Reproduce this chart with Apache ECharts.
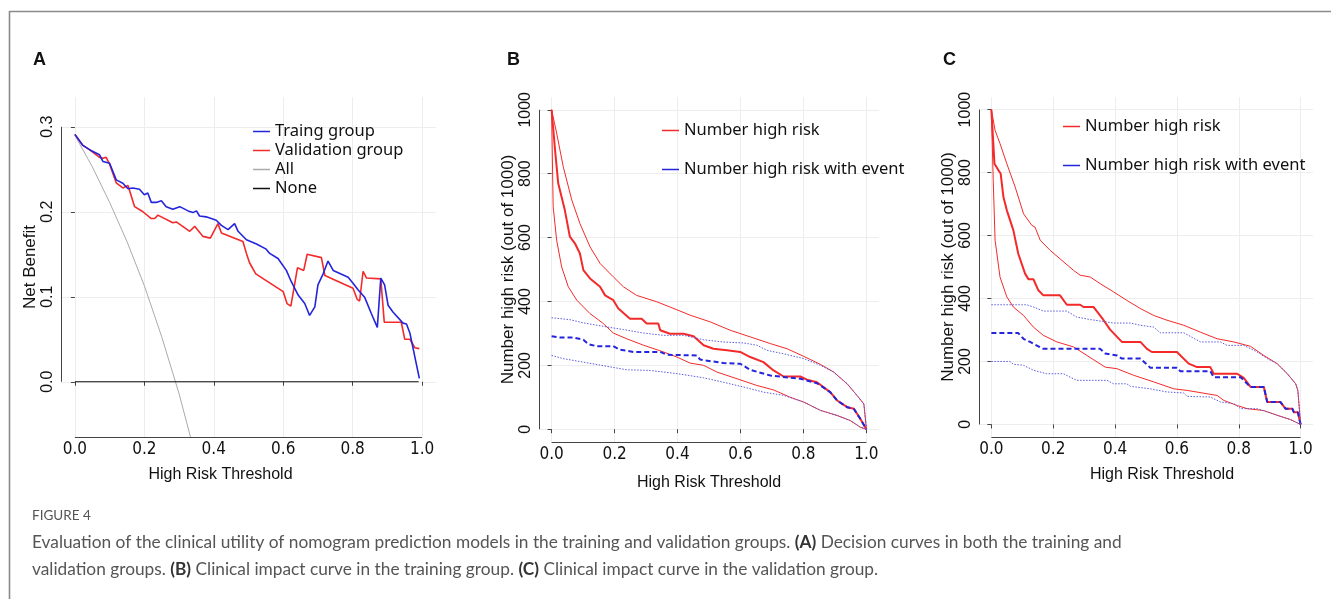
<!DOCTYPE html>
<html>
<head>
<meta charset="utf-8">
<script src="https://cdn.jsdelivr.net/npm/echarts@6/dist/echarts.min.js"></script>
<style>
html,body{margin:0;padding:0;background:#fff;}
#container{width:1331px;height:599px;}
</style>
</head>
<body>
<div id="container"></div>
<script>
// tick values
var xTicks = [0, 0.2, 0.4, 0.6, 0.8, 1.0];
var yTicksA = [0, 0.1, 0.2, 0.3];
var yTicksBC = [0, 200, 400, 600, 800, 1000];

// A: decision curves
var trainA = [[0,0.291],[0.023,0.278],[0.042,0.273],[0.071,0.267],[0.081,0.259],[0.1,0.257],[0.119,0.2375],[0.138,0.2336],[0.153,0.227],[0.167,0.228],[0.186,0.2265],[0.2,0.22],[0.21,0.222],[0.22,0.211],[0.234,0.211],[0.249,0.213],[0.263,0.206],[0.282,0.203],[0.302,0.206],[0.326,0.201],[0.34,0.199],[0.35,0.201],[0.359,0.195],[0.378,0.194],[0.407,0.19],[0.422,0.184],[0.441,0.179],[0.46,0.186],[0.47,0.177],[0.494,0.167],[0.523,0.162],[0.551,0.156],[0.561,0.151],[0.585,0.145],[0.609,0.131],[0.623,0.118],[0.643,0.102],[0.662,0.092],[0.676,0.078],[0.691,0.088],[0.7,0.114],[0.715,0.127],[0.729,0.142],[0.744,0.131],[0.787,0.123],[0.801,0.116],[0.816,0.108],[0.835,0.099],[0.854,0.08],[0.871,0.064],[0.881,0.122],[0.892,0.114],[0.902,0.09],[0.916,0.082],[0.945,0.069],[0.955,0.068],[0.965,0.057],[0.992,0.004]];
var validA = [[0,0.291],[0.023,0.278],[0.042,0.273],[0.071,0.264],[0.081,0.263],[0.09,0.264],[0.1,0.256],[0.119,0.234],[0.138,0.228],[0.153,0.231],[0.172,0.206],[0.196,0.2],[0.22,0.192],[0.23,0.192],[0.239,0.196],[0.282,0.187],[0.292,0.188],[0.331,0.177],[0.345,0.183],[0.369,0.171],[0.39,0.169],[0.412,0.186],[0.422,0.175],[0.484,0.165],[0.494,0.151],[0.503,0.14],[0.521,0.127],[0.6,0.106],[0.611,0.092],[0.622,0.089],[0.641,0.134],[0.659,0.131],[0.669,0.15],[0.71,0.146],[0.72,0.125],[0.801,0.11],[0.813,0.097],[0.82,0.095],[0.83,0.13],[0.84,0.122],[0.881,0.121],[0.891,0.07],[0.94,0.07],[0.95,0.05],[0.965,0.05],[0.979,0.04],[0.992,0.039]];
var allA = [[0,0.29],[0.05,0.253],[0.1,0.211],[0.15,0.165],[0.2,0.113],[0.25,0.053],[0.3,-0.014],[0.333,-0.065]];
var noneA = [[0,0],[0.99,0]];

// B: clinical impact, training group
var riskB = [[0,1000],[0.011,874],[0.021,770],[0.042,686],[0.058,603],[0.074,582],[0.09,550],[0.101,498],[0.122,472],[0.154,446],[0.17,419],[0.196,404],[0.212,378],[0.249,346],[0.286,346],[0.302,331],[0.339,331],[0.345,310],[0.376,299],[0.419,299],[0.451,291],[0.483,263],[0.514,252],[0.557,247],[0.599,242],[0.631,226],[0.673,210],[0.705,184],[0.737,165],[0.79,165],[0.811,155],[0.843,147],[0.885,116],[0.907,90],[0.939,69],[0.96,64],[0.981,32],[1,0]];
var riskUpB = [[0,1000],[0.016,927],[0.037,822],[0.064,718],[0.09,644],[0.122,571],[0.154,519],[0.196,477],[0.228,446],[0.27,419],[0.334,399],[0.398,374],[0.44,357],[0.504,336],[0.567,310],[0.631,289],[0.695,268],[0.748,252],[0.801,228],[0.854,203],[0.896,179],[0.939,142],[0.97,106],[0.992,79],[1,0]];
var riskLoB = [[0,1000],[0.005,697],[0.016,592],[0.032,508],[0.053,446],[0.08,404],[0.122,362],[0.164,331],[0.196,301],[0.239,283],[0.292,263],[0.355,242],[0.398,226],[0.44,207],[0.483,200],[0.525,179],[0.589,158],[0.652,137],[0.705,123],[0.758,100],[0.801,85],[0.854,59],[0.907,43],[0.949,27],[0.981,6],[1,0]];
var eventB = [[0,291],[0.027,287],[0.069,287],[0.101,280],[0.117,266],[0.143,260],[0.196,260],[0.217,249],[0.26,242],[0.345,242],[0.366,233],[0.461,231],[0.472,218],[0.546,207],[0.599,205],[0.631,186],[0.695,168],[0.79,158],[0.843,144],[0.885,116],[0.907,90],[0.939,69],[0.96,64],[0.981,32],[1,0]];
var eventUpB = [[0,349],[0.058,343],[0.101,333],[0.164,322],[0.228,312],[0.292,301],[0.355,294],[0.419,294],[0.483,280],[0.546,273],[0.61,270],[0.652,263],[0.684,247],[0.737,236],[0.801,221],[0.854,200],[0.896,179],[0.939,142],[0.97,106],[0.992,79],[1,0]];
var eventLoB = [[0,231],[0.037,221],[0.101,210],[0.175,197],[0.239,186],[0.313,184],[0.398,174],[0.483,161],[0.546,147],[0.61,132],[0.673,116],[0.737,106],[0.801,85],[0.854,59],[0.907,43],[0.949,27],[0.981,6],[1,0]];

// C: clinical impact, validation group
var riskC = [[0,1000],[0.01,828],[0.023,807],[0.03,797],[0.039,722],[0.05,680],[0.071,617],[0.087,542],[0.109,479],[0.12,461],[0.136,461],[0.152,426],[0.168,410],[0.222,410],[0.244,380],[0.287,380],[0.298,373],[0.33,373],[0.347,352],[0.363,331],[0.384,301],[0.422,262],[0.482,262],[0.503,240],[0.519,230],[0.6,230],[0.638,193],[0.665,182],[0.708,182],[0.719,161],[0.795,161],[0.816,148],[0.838,119],[0.881,119],[0.892,71],[0.935,71],[0.951,50],[0.973,50],[0.978,39],[0.991,39],[1,0]];
var riskUpC = [[0,1000],[0.012,934],[0.028,892],[0.05,828],[0.077,754],[0.104,669],[0.131,632],[0.141,627],[0.158,585],[0.19,553],[0.222,526],[0.266,489],[0.287,474],[0.32,468],[0.352,447],[0.395,421],[0.438,394],[0.482,368],[0.525,346],[0.568,331],[0.622,315],[0.676,293],[0.73,272],[0.784,262],[0.838,248],[0.881,219],[0.924,193],[0.957,161],[0.984,129],[0.991,108],[1,0]];
var riskLoC = [[0,1000],[0.006,775],[0.012,585],[0.028,468],[0.05,405],[0.071,373],[0.104,346],[0.136,309],[0.168,283],[0.212,262],[0.266,246],[0.309,219],[0.368,182],[0.406,177],[0.46,156],[0.525,135],[0.59,113],[0.633,108],[0.73,92],[0.752,76],[0.795,60],[0.827,50],[0.881,44],[0.924,29],[0.968,15],[0.995,2],[1,0]];
var eventC = [[0,290],[0.087,290],[0.104,272],[0.125,262],[0.168,240],[0.352,240],[0.368,225],[0.406,219],[0.422,209],[0.482,209],[0.514,180],[0.6,180],[0.611,169],[0.708,169],[0.719,150],[0.806,150],[0.838,119],[0.881,119],[0.892,71],[0.935,71],[0.951,50],[0.973,50],[0.978,39],[0.991,39],[1,0]];
var eventUpC = [[0,380],[0.114,380],[0.136,373],[0.168,360],[0.244,360],[0.276,341],[0.32,333],[0.395,322],[0.449,322],[0.482,315],[0.525,309],[0.546,291],[0.622,291],[0.676,262],[0.741,262],[0.762,251],[0.816,251],[0.86,230],[0.892,209],[0.924,193],[0.957,161],[0.984,129],[0.991,108],[1,0]];
var eventLoC = [[0,200],[0.06,200],[0.071,191],[0.104,188],[0.136,172],[0.179,161],[0.233,161],[0.255,150],[0.276,140],[0.374,140],[0.395,129],[0.438,129],[0.449,121],[0.514,113],[0.568,103],[0.622,100],[0.633,89],[0.708,87],[0.741,71],[0.784,66],[0.806,50],[0.86,50],[0.924,29],[0.968,15],[0.995,2],[1,0]];

var X_MIN = -0.04, X_MAX = 1.04;
var YA_MIN = -0.065, YA_MAX = 0.335;
var YB_MIN = -40, YB_MAX = 1040;

var AX = '#444';
var FONT = 'Liberation Sans, Arial, sans-serif';
var NARROW = 'Liberation Sans Narrow, DejaVu Sans Condensed, Liberation Sans, sans-serif';
var CAP = 'Lato, Open Sans, sans-serif';

var myChart = echarts.init(document.getElementById('container'));

function xAxisOf(g, gap, pad) {
    return {
        type: 'value', gridIndex: g, min: X_MIN, max: X_MAX,
        axisLine: {show: false},
        axisTick: {show: true, length: 4, customValues: xTicks, lineStyle: {color: AX}},
        axisLabel: {customValues: xTicks, margin: 4, fontFamily: NARROW, fontSize: 17, color: '#111',
            formatter: function (v) { return v.toFixed(1); }},
        splitLine: {show: true, lineStyle: {color: '#ededed'}},
        name: 'High Risk Threshold', nameLocation: 'middle', nameGap: gap,
        nameTextStyle: {fontFamily: FONT, fontSize: 16, color: '#111', padding: pad}
    };
}
function yAxisOf(g, min, max, ticks, name, fmt) {
    return {
        type: 'value', gridIndex: g, min: min, max: max,
        axisLine: {show: false},
        axisTick: {show: true, length: 4, customValues: ticks, lineStyle: {color: AX}},
        axisLabel: {customValues: ticks, rotate: 90, margin: 5, fontFamily: FONT, fontSize: 16, color: '#111',
            formatter: fmt},
        splitLine: {show: true, lineStyle: {color: '#ededed'}},
        name: name, nameLocation: 'middle', nameGap: 18,
        nameTextStyle: {fontFamily: FONT, fontSize: 17, color: '#111'}
    };
}
// axis lines only from first to last tick, like R
function axisLines(yMin, yTop) {
    return {
        silent: true, symbol: ['none', 'none'], label: {show: false},
        lineStyle: {color: AX, width: 1, type: 'solid'},
        emphasis: {disabled: true},
        data: [
            [{coord: [0, yMin]}, {coord: [1, yMin]}],
            [{coord: [X_MIN, 0]}, {coord: [X_MIN, yTop]}]
        ]
    };
}
function line(g, name, data, color, width, type, extra) {
    var s = {
        type: 'line', name: name, xAxisIndex: g, yAxisIndex: g, data: data,
        symbol: 'none', silent: true,
        lineStyle: {color: color, width: width, type: type || 'solid'},
        itemStyle: {color: color}
    };
    if (extra) s.markLine = extra;
    return s;
}
function legendOf(left, top, gap, names) {
    return {
        orient: 'vertical', left: left, top: top, icon: 'rect',
        itemWidth: 17, itemHeight: 1.5, itemGap: gap, padding: 0,
        data: names,
        textStyle: {fontFamily: 'Noto Sans, sans-serif', fontSize: 16.5, color: '#111', lineHeight: 19}
    };
}
function letter(t, left) {
    return {text: t, left: left, top: 51, padding: 0,
        textStyle: {fontFamily: FONT, fontSize: 18, fontWeight: 'bold', color: '#111'}};
}

var RED = '#f42a2a', BLUE = '#2424dd', LBLUE = '#5b5be0';

var option = {
    animation: false,
    backgroundColor: '#fff',
    graphic: [
        {type: 'line', shape: {x1: 9.5, y1: 11.5, x2: 1331, y2: 11.5}, style: {stroke: '#8a8a8a', lineWidth: 1.6}},
        {type: 'line', shape: {x1: 9.5, y1: 11, x2: 9.5, y2: 599}, style: {stroke: '#8a8a8a', lineWidth: 1.6}}
    ],
    title: [
        letter('A', 33), letter('B', 507), letter('C', 943),
        {text: 'FIGURE 4', left: 32, top: 509, padding: 0,
            textStyle: {fontFamily: CAP, fontSize: 13.5, fontWeight: 'normal', color: '#555'}},
        {text: 'Evaluation of the clinical utility of nomogram prediction models in the training and validation groups. {b|(A)} Decision curves in both the training and\nvalidation groups. {b|(B)} Clinical impact curve in the training group. {b|(C)} Clinical impact curve in the validation group.',
            left: 32, top: 529, padding: 0,
            textStyle: {fontFamily: CAP, fontSize: 17.3, fontWeight: 'normal', color: '#555', lineHeight: 27,
                rich: {b: {fontFamily: CAP, fontSize: 17.3, fontWeight: 'bold', color: '#333', lineHeight: 27}}}}
    ],
    legend: [
        legendOf(253, 122, 0, ['Traing group', 'Validation group', 'All', 'None']),
        legendOf(662, 121, 20, ['Number high risk', 'Number high risk with event']),
        legendOf(1063, 117, 20, ['Number high risk', 'Number high risk with event'])
    ],
    grid: [
        {left: 61, top: 97, width: 375, height: 340},
        {left: 539, top: 97, width: 340, height: 345},
        {left: 979, top: 97, width: 334, height: 340}
    ],
    xAxis: [
        xAxisOf(0, 30, [0, 56, 0, 0]),
        xAxisOf(1, 33, 0),
        xAxisOf(2, 30, [0, 0, 0, 32])
    ],
    yAxis: [
        yAxisOf(0, YA_MIN, YA_MAX, yTicksA, 'Net Benefit', function (v) { return v.toFixed(1); }),
        yAxisOf(1, YB_MIN, YB_MAX, yTicksBC, 'Number high risk (out of 1000)', function (v) { return String(Math.round(v)); }),
        yAxisOf(2, YB_MIN, YB_MAX, yTicksBC, 'Number high risk (out of 1000)', function (v) { return String(Math.round(v)); })
    ],
    series: [
        line(0, 'All', allA, '#aaaaaa', 1, 'solid', axisLines(YA_MIN, 0.3)),
        line(0, 'None', noneA, '#111111', 1.2),
        line(0, 'Validation group', validA, RED, 1.6),
        line(0, 'Traing group', trainA, BLUE, 1.6),

        line(1, 'Number high risk', riskB, RED, 2, 'solid', axisLines(YB_MIN, 1000)),
        line(1, 'riskUpB', riskUpB, RED, 1),
        line(1, 'riskLoB', riskLoB, RED, 1),
        line(1, 'Number high risk with event', eventB, BLUE, 2, [5, 3]),
        line(1, 'eventUpB', eventUpB, LBLUE, 1, [1.5, 1.5]),
        line(1, 'eventLoB', eventLoB, LBLUE, 1, [1.5, 1.5]),

        line(2, 'Number high risk', riskC, RED, 2, 'solid', axisLines(YB_MIN, 1000)),
        line(2, 'riskUpC', riskUpC, RED, 1),
        line(2, 'riskLoC', riskLoC, RED, 1),
        line(2, 'Number high risk with event', eventC, BLUE, 2, [5, 3]),
        line(2, 'eventUpC', eventUpC, LBLUE, 1, [1.5, 1.5]),
        line(2, 'eventLoC', eventLoC, LBLUE, 1, [1.5, 1.5])
    ]
};
myChart.setOption(option, true);
</script>
</body>
</html>
